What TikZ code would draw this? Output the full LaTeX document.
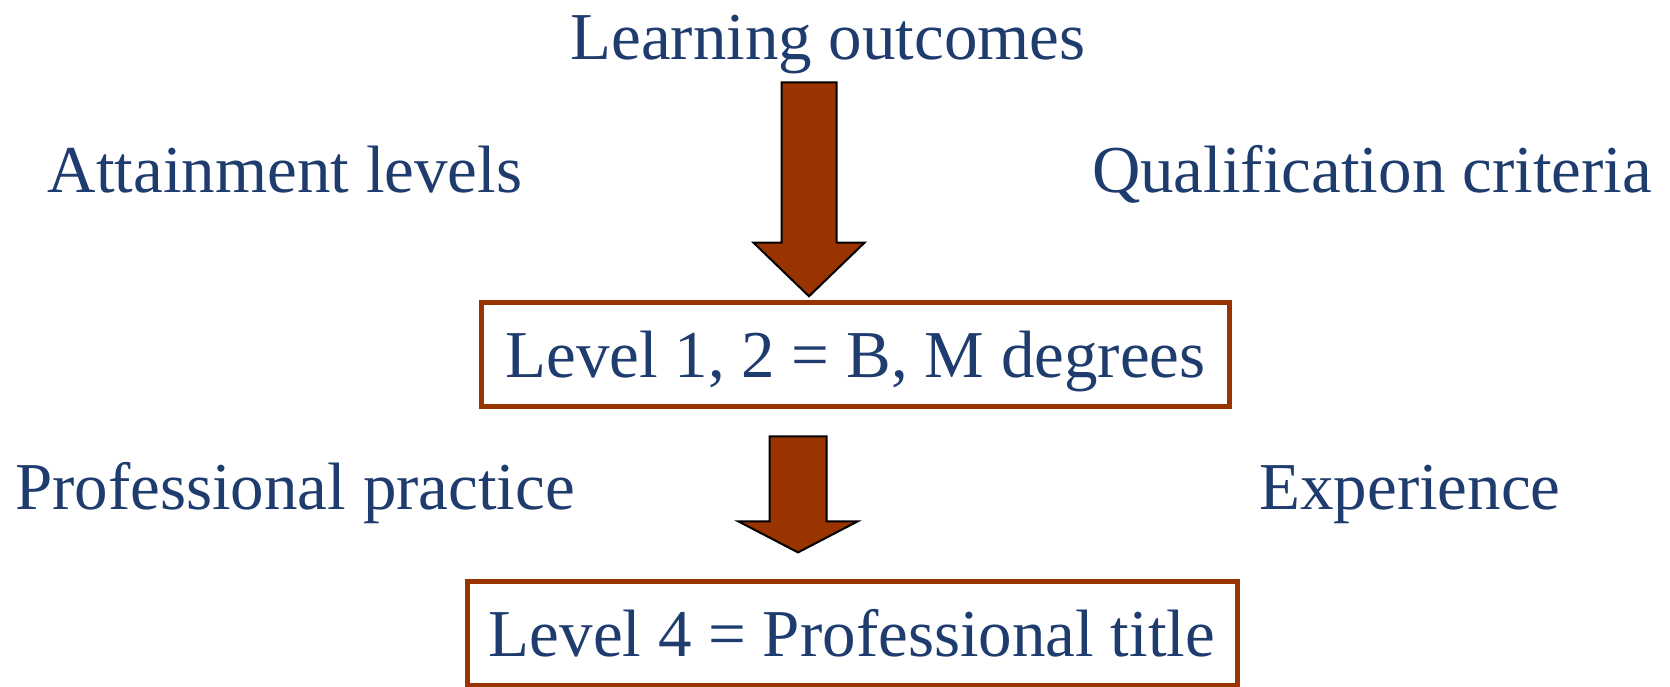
\documentclass[tikz,border=0pt]{standalone}
\usepackage{fontspec}
\setmainfont{Liberation Serif}
\usetikzlibrary{shapes.arrows}
\definecolor{inkblue}{HTML}{1F3C6E}
\definecolor{rust}{HTML}{993300}
\begin{document}
\begin{tikzpicture} [x=0.5pt, y=-0.5pt]
	\tikzset{lbl/.style={text=inkblue, font=\fontsize{33.5}{40}\selectfont, inner sep=0pt, anchor=base}}
	\tikzset{lvl/.style={draw=rust, line width=2.5pt, text=inkblue, font=\fontsize{33.5}{40}\selectfont, inner sep=0pt, text height=23pt, text depth=0pt, minimum height=52pt}}
	\tikzset{fat/.style={single arrow, draw=black, fill=rust, line width=1pt, rotate=-90, inner xsep=0pt, single arrow head indent=0pt}}
	\useasboundingbox (0,0) rectangle (1670,686);

	\node[lbl]	(lo)	at (828,59)		{Learning outcomes};
	\node[lbl]	(al)	at (285,192)	{Attainment levels};
	\node[lbl]	(qc)	at (1372,192)	{Qualification criteria};
	\node[lbl]	(pp)	at (295,509)	{Professional practice};
	\node[lbl]	(ex)	at (1410,509)	{Experience};

	\node[lvl, minimum width=374pt]	(bm)	at (855.5,354)	{Level 1, 2 = B, M degrees};
	\node[lvl, minimum width=385pt]	(pt)	at (852,633)	{Level 4 = Professional title};

	\node[fat, inner ysep=13.25pt, minimum height=107pt, single arrow head extend=14pt, single arrow tip angle=92]
		(a1) at (809,176) {};
	\node[fat, inner ysep=13.75pt, minimum height=58pt, single arrow head extend=15.5pt, single arrow tip angle=125]
		(a2) at (798,487) {};
\end{tikzpicture}
\end{document}
